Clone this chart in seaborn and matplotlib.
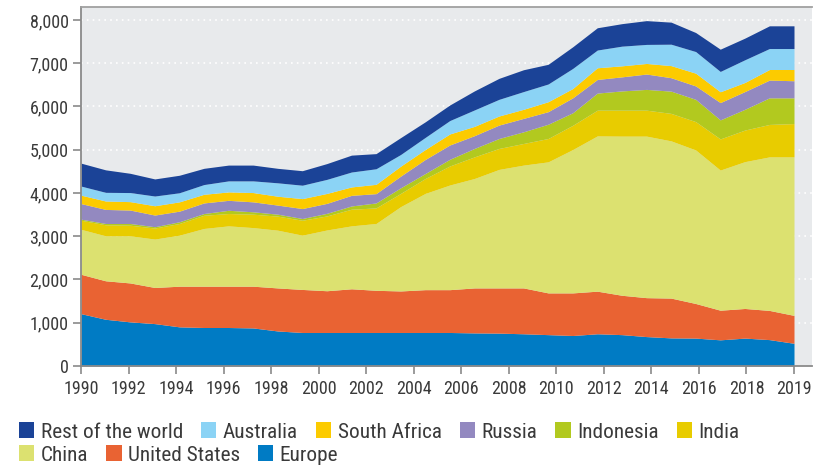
import numpy as np
import pandas as pd
import seaborn as sns
import matplotlib
matplotlib.use("Agg")
import matplotlib.pyplot as plt
from matplotlib import font_manager
from matplotlib.patches import Patch
from matplotlib.ticker import FuncFormatter

# Coal consumption by region, 1990-2019 (stacked, bottom to top)
years = list(range(1990, 2020))
europe = [1210, 1080, 1020, 980, 905, 890, 890, 880, 810, 775, 775, 775, 775, 775, 775,
          775, 765, 760, 745, 725, 705, 745, 725, 680, 650, 645, 605, 645, 610, 525]
united_states = [910, 890, 900, 835, 940, 955, 955, 965, 995, 995, 965, 1010, 975, 960, 990,
                 990, 1040, 1045, 1060, 965, 985, 985, 910, 900, 920, 800, 685, 685, 675, 645]
china = [1040, 1040, 1090, 1120, 1180, 1335, 1395, 1355, 1335, 1255, 1405, 1455, 1545, 1950, 2225,
         2420, 2530, 2740, 2840, 3030, 3315, 3590, 3680, 3735, 3635, 3550, 3240, 3395, 3550, 3665]
india = [210, 255, 245, 255, 270, 305, 285, 310, 325, 345, 325, 385, 360, 305, 345,
         440, 500, 485, 500, 540, 560, 595, 600, 600, 635, 655, 720, 730, 750, 770]
indonesia = [25, 30, 40, 30, 40, 40, 75, 55, 45, 40, 60, 75, 115, 130, 115,
             155, 195, 230, 270, 330, 290, 395, 445, 480, 515, 515, 440, 480, 615, 595]
russia = [360, 325, 310, 270, 245, 245, 230, 230, 210, 230, 230, 245, 215, 270, 325,
          330, 295, 310, 310, 290, 345, 315, 325, 355, 310, 310, 400, 410, 410, 395]
south_africa = [195, 195, 195, 215, 215, 200, 195, 215, 205, 230, 230, 195, 215, 230, 230,
                255, 215, 210, 210, 230, 215, 270, 255, 245, 280, 295, 250, 210, 245, 260]
australia = [210, 200, 210, 225, 210, 225, 255, 270, 310, 310, 325, 345, 360, 270, 280,
             310, 380, 385, 410, 410, 465, 410, 455, 440, 495, 500, 470, 525, 485, 485]
rest_of_world = [530, 520, 445, 395, 405, 375, 365, 365, 335, 335, 365, 390, 350, 390, 360,
                 360, 440, 485, 505, 455, 500, 515, 520, 550, 510, 440, 515, 500, 525, 525]

series_names = ["Europe", "United States", "China", "India", "Indonesia",
                "Russia", "South Africa", "Australia", "Rest of the world"]
series_colors = ["#007bc4", "#e96333", "#dce170", "#e8cc00", "#b2c91f",
                 "#9389c0", "#fccb00", "#8bd3f5", "#1b4397"]

# Axis tick labels (16 evenly spaced ticks across the data span)
x_tick_labels = ["1990", "1992", "1994", "1996", "1998", "2000", "2002", "2004",
                 "2006", "2008", "2010", "2012", "2014", "2016", "2018", "2019"]

df = pd.DataFrame({
    "year": years,
    "Europe": europe,
    "United States": united_states,
    "China": china,
    "India": india,
    "Indonesia": indonesia,
    "Russia": russia,
    "South Africa": south_africa,
    "Australia": australia,
    "Rest of the world": rest_of_world,
})

sns.set_theme(style="white")

available = {f.name for f in font_manager.fontManager.ttflist}
family = next((f for f in ["Liberation Sans Narrow", "Roboto Condensed", "Liberation Sans"]
               if f in available), "DejaVu Sans")
plt.rcParams["font.family"] = [family, "DejaVu Sans"]

fig = plt.figure(figsize=(8.30, 4.66), dpi=100)
ax = fig.add_axes([81 / 830, 1 - 366 / 466, (812 - 81) / 830, (366 - 7) / 466])

idx = np.arange(len(df))
ax.stackplot(idx, *[df[n].values for n in series_names],
             colors=series_colors, linewidth=0, zorder=2)

ax.set_facecolor("#e8eaec")
ax.set_xlim(0, (812 - 81) / ((794 - 81) / 29))
ax.set_ylim(0, 8300)

ax.set_yticks(range(0, 8001, 1000))
ax.yaxis.set_major_formatter(FuncFormatter(lambda v, p: f"{int(v):,}"))
ax.set_xticks(np.linspace(0, len(df) - 1, len(x_tick_labels)))
ax.set_xticklabels(x_tick_labels)

ax.grid(axis="y", color="white", linestyle=(0, (1, 2.5)), linewidth=1.2, zorder=1)
ax.set_axisbelow(True)

for side in ["left", "bottom", "top"]:
    ax.spines[side].set_visible(True)
    ax.spines[side].set_color("#8a8a8a")
    ax.spines[side].set_linewidth(1.3)
ax.spines["right"].set_visible(False)
ax.spines["top"].set_color("#a0a0a0")

ax.tick_params(axis="both", which="major", direction="out", length=6, width=1.2,
               color="#8a8a8a", labelsize=13, labelcolor="#3a3a3a", pad=3)
ax.tick_params(axis="x", bottom=True, pad=4)
ax.tick_params(axis="y", left=True)

# Legend: two flowing rows, row-major order
handles = {n: Patch(facecolor=c, edgecolor="none") for n, c in zip(series_names, series_colors)}
row1 = ["Rest of the world", "Australia", "South Africa", "Russia", "Indonesia", "India"]
row2 = ["China", "United States", "Europe"]
common = dict(frameon=False, fontsize=15.3, handlelength=0.72, handleheight=0.8,
              handletextpad=0.3, columnspacing=0.85, borderaxespad=0, borderpad=0,
              labelcolor="#3a3a3a")
leg1 = fig.legend([handles[n] for n in row1], row1, ncol=len(row1), loc="upper left",
                  bbox_to_anchor=(19 / 830, 1 - 422 / 466), **common)
leg2 = fig.legend([handles[n] for n in row2], row2, ncol=len(row2), loc="upper left",
                  bbox_to_anchor=(19 / 830, 1 - 445 / 466), **common)

fig.savefig("out.png", dpi=100)
